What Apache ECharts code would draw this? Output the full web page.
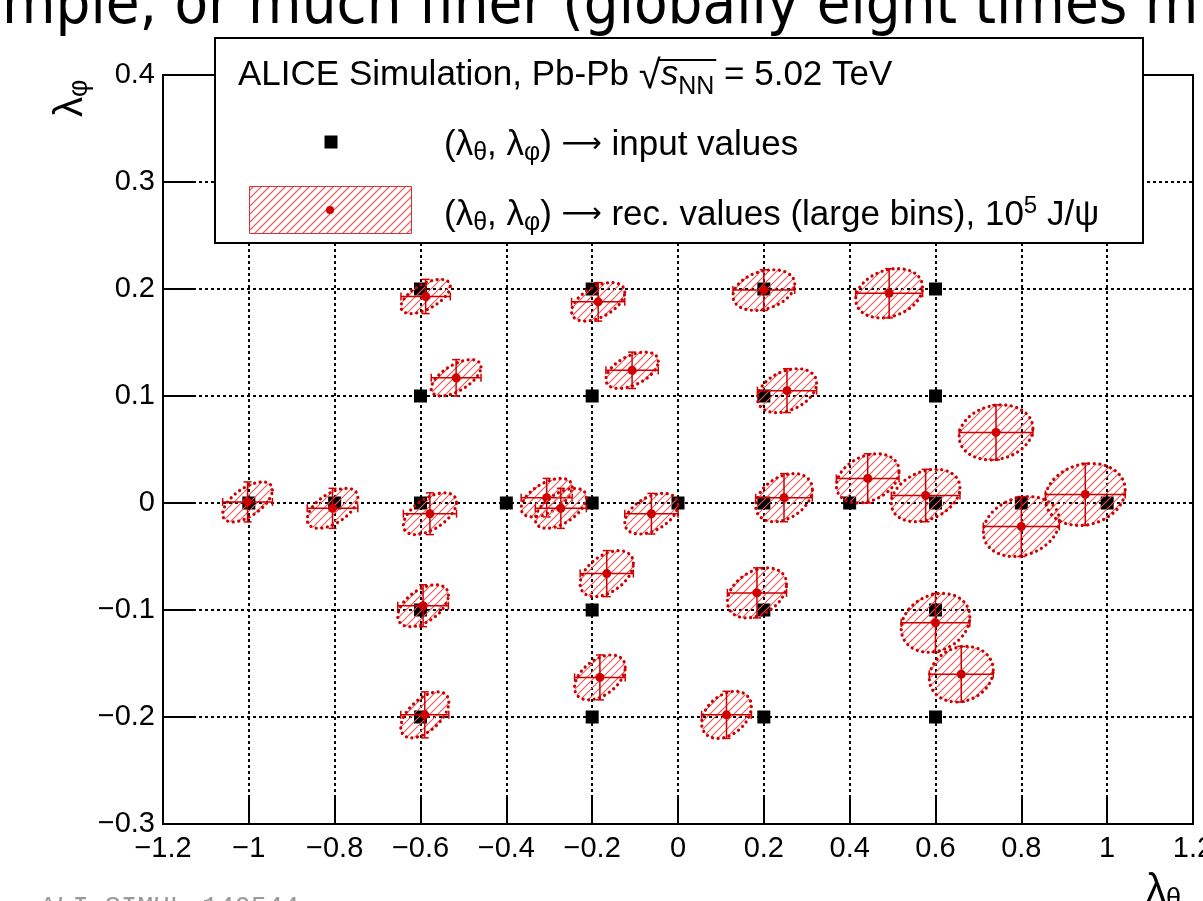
<!DOCTYPE html>
<html><head><meta charset="utf-8">
<script src="https://cdn.jsdelivr.net/npm/echarts@6/dist/echarts.min.js"></script>
<style>html,body{margin:0;padding:0;background:#fff;overflow:hidden}#c{width:1203px;height:901px}</style>
</head><body><div id="c"></div>
<script>
// ---------- data ----------
const xTickLabels = ['\u22121.2','\u22121','\u22120.8','\u22120.6','\u22120.4','\u22120.2','0','0.2','0.4','0.6','0.8','1','1.2'];
const yTickLabels = ['\u22120.3','\u22120.2','\u22120.1','0','0.1','0.2','0.3','0.4'];
// input (lambda_theta, lambda_phi)
const inputTheta = [-0.6,-0.2,0.2,0.6, -0.6,-0.2,0.2,0.6, -1,-0.8,-0.6,-0.4,-0.2,0,0.2,0.4,0.6,0.8,1, -0.6,-0.2,0.2,0.6, -0.6,-0.2,0.2,0.6];
const inputPhi   = [0.2,0.2,0.2,0.2, 0.1,0.1,0.1,0.1, 0,0,0,0,0,0,0,0,0,0,0, -0.1,-0.1,-0.1,-0.1, -0.2,-0.2,-0.2,-0.2];
// reconstructed values with uncertainties and correlation
const recTheta  = [-0.588,-0.186,0.200,0.492,-0.517,-0.107,0.254,0.741,-1.003,-0.805,-0.578,-0.306,-0.273,-0.062,0.247,0.442,0.577,0.800,0.949,-0.166,0.184,-0.594,0.600,-0.182,0.660,-0.590,0.113];
const recPhi    = [0.193,0.188,0.199,0.196,0.117,0.124,0.105,0.066,0.001,-0.005,-0.010,0.005,-0.005,-0.010,0.005,0.023,0.007,-0.022,0.008,-0.066,-0.084,-0.096,-0.112,-0.163,-0.160,-0.198,-0.198];
const recErrTheta = [0.0575,0.062,0.072,0.078,0.058,0.061,0.069,0.086,0.058,0.059,0.062,0.0595,0.0595,0.062,0.066,0.073,0.080,0.0886,0.093,0.062,0.069,0.059,0.080,0.059,0.0745,0.056,0.058];
const recErrPhi   = [0.016,0.018,0.019,0.023,0.017,0.017,0.0205,0.0257,0.0187,0.0187,0.0195,0.018,0.0187,0.019,0.0225,0.023,0.0245,0.028,0.029,0.0215,0.0234,0.0196,0.0275,0.021,0.026,0.0215,0.022];
const recRho      = [0.6,0.5,0.3,0.25,0.6,0.5,0.35,0.15,0.6,0.55,0.55,0.55,0.55,0.45,0.35,0.3,0.3,0.2,0.15,0.45,0.35,0.5,0.2,0.45,0.15,0.55,0.35];

// ---------- helpers ----------
const FONT = '"Liberation Sans", Arial, Helvetica, sans-serif';
const RED = '#d00000';
const HATCH = '#e85c5c';
const HSP = 8;
const mctx = document.createElement('canvas').getContext('2d');
function tw(t, font){ mctx.font = font; return mctx.measureText(t).width; }

// diagonal "/" hatch segments inside a convex polygon (pixel coords)
function hatchSegments(pts){
  let cmin = Infinity, cmax = -Infinity;
  pts.forEach(p => { const s = p[0] + p[1]; if (s < cmin) cmin = s; if (s > cmax) cmax = s; });
  const segs = [];
  for (let c = Math.ceil(cmin / HSP) * HSP; c <= cmax; c += HSP){
    const hits = [];
    for (let i = 0; i < pts.length; i++){
      const p = pts[i], q = pts[(i+1) % pts.length];
      const fp = p[0] + p[1] - c, fq = q[0] + q[1] - c;
      if ((fp <= 0 && fq > 0) || (fp > 0 && fq <= 0)){
        const t = fp / (fp - fq);
        hits.push([p[0] + t*(q[0]-p[0]), p[1] + t*(q[1]-p[1])]);
      }
    }
    if (hits.length >= 2) segs.push([hits[0], hits[1]]);
  }
  return segs;
}
function hatchElements(pts, z){
  return hatchSegments(pts).map(s => {
    const e = {type:'line', shape:{x1:s[0][0], y1:s[0][1], x2:s[1][0], y2:s[1][1]}, style:{stroke:HATCH, lineWidth:1.1, opacity:1}};
    if (z !== undefined) e.z = z;
    return e;
  });
}

const inputData = inputTheta.map((v,i)=>[v, inputPhi[i]]);
const recData = recTheta.map((v,i)=>[v, recPhi[i], recErrTheta[i], recErrPhi[i], recRho[i]]);

function fmtX(v){ const i = Math.round((v + 1.2) / 0.2); return xTickLabels[i] || ''; }
function fmtY(v){ const i = Math.round((v + 0.3) / 0.1); return yTickLabels[i] || ''; }

// title overline geometry (layout only)
const t1 = 'ALICE Simulation, Pb-Pb ';
const w1 = tw(t1, '35px ' + FONT);
const wSq = tw('\u221A', '40px ' + FONT);
const wS = tw('s', 'italic 35px ' + FONT);
const wNN = tw('NN', '25px ' + FONT);
const olX0 = 238 + w1 + wSq - 2;
const olX1 = olX0 + wS + wNN + 4;

// top slide text
const topText = 'mple, or much finer (globally eight times m';
const topFam = '"Liberation Sans Narrow", "DejaVu Sans Condensed", sans-serif';
const topFs = 100 * 1142 / tw('mple, or much finer (globally eight times ', '100px ' + topFam);

// legend hatched box
const legRect = [[249.5,186.5],[411.5,186.5],[411.5,233.5],[249.5,233.5]];

const richBase = {
  n:{fontSize:35, fontFamily:FONT, lineHeight:40, fill:'#000'},
  ar:{fontSize:28, fontFamily:'"DejaVu Sans", sans-serif', lineHeight:40, fill:'#000'},
  s:{fontSize:25, fontFamily:FONT, lineHeight:40, padding:[17,0,0,0], fill:'#000'},
  p:{fontSize:24, fontFamily:FONT, lineHeight:40, padding:[0,0,17,0], fill:'#000'}
};

const chart = echarts.init(document.getElementById('c'), null, {renderer:'canvas'});
chart.setOption({
  backgroundColor: '#fff',
  animation: false,
  grid: {left:163, right:10, top:75, bottom:77, outerBoundsMode:'none', containLabel:false, show:true, borderColor:'#000', borderWidth:2, backgroundColor:'transparent'},
  xAxis: {
    type:'value', min:-1.2, max:1.2, interval:0.2,
    axisLine:{show:true, onZero:false, lineStyle:{color:'#000', width:2}},
    axisTick:{show:true, inside:true, length:27, lineStyle:{color:'#000', width:2}},
    axisLabel:{color:'#000', fontSize:29, fontFamily:FONT, margin:10, formatter:fmtX, showMinLabel:true, showMaxLabel:true, hideOverlap:false},
    splitLine:{show:true, lineStyle:{color:'#000', width:2, type:[3,3]}}
  },
  yAxis: {
    type:'value', min:-0.3, max:0.4, interval:0.1,
    axisLine:{show:true, onZero:false, lineStyle:{color:'#000', width:2}},
    axisTick:{show:true, inside:true, length:30, lineStyle:{color:'#000', width:2}},
    axisLabel:{color:'#000', fontSize:29, fontFamily:FONT, margin:8, formatter:fmtY, showMinLabel:true, showMaxLabel:true, hideOverlap:false},
    splitLine:{show:true, lineStyle:{color:'#000', width:2, type:[3,3]}}
  },
  series: [
    {type:'scatter', data: inputData, symbol:'rect', symbolSize:13, itemStyle:{color:'#000', opacity:1}, z:2, silent:true},
    {type:'custom', data: recData, z:3, silent:true,
     renderItem: function(params, api){
       const x = api.value(0), y = api.value(1), sx = api.value(2), sy = api.value(3), r = api.value(4);
       const k = Math.sqrt(1 - r*r);
       const pts = [];
       const N = 96;
       for (let i=0;i<N;i++){
         const t = 2*Math.PI*i/N;
         pts.push(api.coord([x + sx*Math.cos(t), y + sy*(r*Math.cos(t) + k*Math.sin(t))]));
       }
       const c = api.coord([x,y]);
       const L = api.coord([x-sx,y]), R = api.coord([x+sx,y]);
       const T = api.coord([x,y+sy]), B = api.coord([x,y-sy]);
       const cap = 4;
       const ls = {stroke:RED, lineWidth:1.5};
       const children = [];
       hatchElements(pts).forEach(e => children.push(e));
       children.push(
         {type:'polygon', shape:{points:pts}, style:{fill:null, stroke:RED, lineWidth:3.2, lineDash:[0.1,5.5], lineCap:'round'}},
         {type:'line', shape:{x1:L[0],y1:L[1],x2:R[0],y2:R[1]}, style:ls},
         {type:'line', shape:{x1:T[0],y1:T[1],x2:B[0],y2:B[1]}, style:ls},
         {type:'line', shape:{x1:L[0],y1:L[1]-cap,x2:L[0],y2:L[1]+cap}, style:ls},
         {type:'line', shape:{x1:R[0],y1:R[1]-cap,x2:R[0],y2:R[1]+cap}, style:ls},
         {type:'line', shape:{x1:T[0]-cap,y1:T[1],x2:T[0]+cap,y2:T[1]}, style:ls},
         {type:'line', shape:{x1:B[0]-cap,y1:B[1],x2:B[0]+cap,y2:B[1]}, style:ls},
         {type:'circle', shape:{cx:c[0], cy:c[1], r:4.5}, style:{fill:RED}}
       );
       return {type:'group', children: children};
     }}
  ],
  graphic: [
    // top slide text (cut off)
    {type:'text', x:2, y:28 - 0.35*topFs, z:50, style:{text:topText, font: topFs.toFixed(1) + 'px ' + topFam, fill:'#000', verticalAlign:'middle', align:'left'}},
    // legend box
    {type:'rect', z:60, shape:{x:215, y:38, width:928, height:205}, style:{fill:'#fff', stroke:'#000', lineWidth:2}},
    {type:'text', z:61, x:238, y:75, style:{
      text:'{n|' + t1 + '}{q|\u221A}{i|s}{s|NN}{n| = 5.02 TeV}',
      verticalAlign:'middle', align:'left',
      rich:{
        n:richBase.n,
        q:{fontSize:40, fontFamily:FONT, lineHeight:40, padding:[4,0,0,0], fill:'#000'},
        i:{fontSize:35, fontFamily:FONT, fontStyle:'italic', lineHeight:40, fill:'#000'},
        s:{fontSize:25, fontFamily:FONT, lineHeight:40, padding:[24,0,0,0], fill:'#000'}
      }}},
    {type:'line', z:62, shape:{x1:olX0, y1:60, x2:olX1, y2:60}, style:{stroke:'#000', lineWidth:2}},
    {type:'rect', z:61, shape:{x:324.5, y:135.5, width:13, height:13}, style:{fill:'#000'}},
    {type:'text', z:61, x:444, y:145, style:{
      text:'{n|(\u03BB}{s|\u03B8}{n|, \u03BB}{s|\u03C6}{n|) }{ar|\u27F6}{n| input values}',
      verticalAlign:'middle', align:'left', rich: richBase}},
    {type:'group', z:61, children: hatchElements(legRect, 61)},
    {type:'rect', z:62, shape:{x:249.5, y:186.5, width:162, height:47}, style:{fill:null, stroke:'#e03030', lineWidth:1}},
    {type:'circle', z:62, shape:{cx:330, cy:210, r:4}, style:{fill:RED}},
    {type:'text', z:61, x:444, y:215, style:{
      text:'{n|(\u03BB}{s|\u03B8}{n|, \u03BB}{s|\u03C6}{n|) }{ar|\u27F6}{n| rec. values (large bins), 10}{p|5}{n| J/\u03C8}',
      verticalAlign:'middle', align:'left', rich: richBase}},
    // y axis title (rotated)
    {type:'text', z:61, x:71, y:117, rotation:Math.PI/2, style:{
      text:'{a|\u03BB}{b|\u03C6}', verticalAlign:'middle', align:'left',
      rich:{a:{fontSize:40, fontFamily:FONT, lineHeight:44, fill:'#000'}, b:{fontSize:27, fontFamily:FONT, lineHeight:44, padding:[18,0,0,0], fill:'#000'}}}},
    // x axis title (cut off)
    {type:'text', z:61, x:1146, y:891, style:{
      text:'{a|\u03BB}{b|\u03B8}', verticalAlign:'middle', align:'left',
      rich:{a:{fontSize:40, fontFamily:FONT, lineHeight:44, fill:'#000'}, b:{fontSize:27, fontFamily:FONT, lineHeight:44, padding:[18,0,0,0], fill:'#000'}}}},
    // figure id (cut off)
    {type:'text', z:61, x:40, y:894, style:{text:'ALI-SIMUL-140544', font:'27px "Liberation Mono", monospace', fill:'#9a9a9a', verticalAlign:'top', align:'left'}}
  ]
});
</script></body></html>
